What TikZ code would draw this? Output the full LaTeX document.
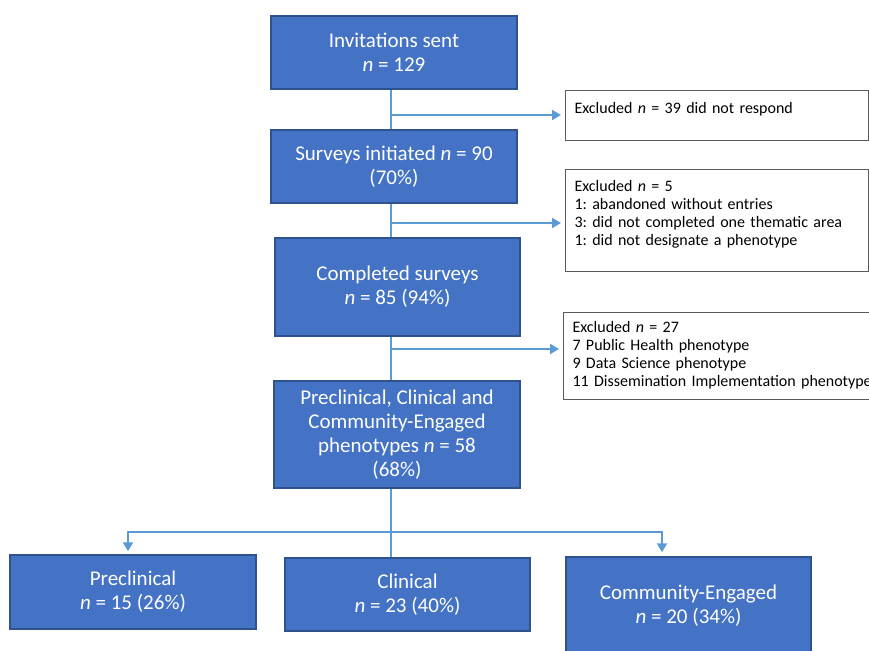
\documentclass[tikz,border=0pt]{standalone}
\usepackage{fontspec}
\setmainfont{Carlito}
\usetikzlibrary{arrows.meta}
\frenchspacing
\definecolor{boxblue}{HTML}{4472C4}
\definecolor{boxedge}{HTML}{2F528F}
\definecolor{linkblue}{HTML}{5B9BD5}
\definecolor{greyedge}{HTML}{5A5A5A}
\tikzset{
  bluebox/.style={draw=boxedge, line width=1.5pt, fill=boxblue, text=white,
    align=center, inner sep=0pt, font=\fontsize{21}{24}\selectfont},
  exbox/.style={draw=greyedge, line width=1.1pt, fill=white, anchor=north west,
    align=left, inner xsep=9pt, text height=12pt,
    font=\fontsize{16}{18}\selectfont\frenchspacing},
  link/.style={draw=linkblue, line width=2.4pt},
  arr/.style={link, -{Triangle[length=9pt,width=10pt]}, shorten >=4pt},
}
\begin{document}
\begin{tikzpicture}[x=1pt,y=-1pt]
\useasboundingbox (0,0) rectangle (869,650);
\clip (0,0) rectangle (869,650);

% main column
\node[bluebox, minimum width=246pt, minimum height=73pt] (inv) at (394,52.5)
  {Invitations sent\\\textit{n} = 129};
\node[bluebox, minimum width=246pt, minimum height=73pt] (surv) at (394,166.5)
  {Surveys initiated \textit{n} = 90\\(70\%)};
\node[bluebox, minimum width=245pt, minimum height=98pt] (comp) at (397.5,287)
  {Completed surveys\\\textit{n} = 85 (94\%)};
\node[bluebox, minimum width=246pt, minimum height=107pt] (pcc) at (397,434.5)
  {Preclinical, Clinical and\\Community-Engaged\\phenotypes \textit{n} = 58\\(68\%)};

% bottom row
\node[bluebox, minimum width=246pt, minimum height=74pt] (precl) at (133,592)
  {Preclinical\\\textit{n} = 15 (26\%)};
\node[bluebox, minimum width=245pt, minimum height=73pt] (clin) at (407.5,594.5)
  {Clinical\\\textit{n} = 23 (40\%)};
\node[bluebox, minimum width=245pt, minimum height=98pt] (comm) at (688.5,606)
  {Community-Engaged\\\textit{n} = 20 (34\%)};

% exclusion boxes
\node[exbox, text width=285pt, inner ysep=11pt, text depth=16pt] (exc1) at (565,90)
  {Excluded \textit{n} = 39 did not respond};
\node[exbox, text width=285pt, inner ysep=10pt, text depth=70pt] (exc2) at (565,169)
  {Excluded \textit{n} = 5\\1: abandoned without entries\\3: did not completed one thematic area\\1: did not designate a phenotype};
\node[exbox, text width=300pt, inner ysep=8pt, text depth=59pt] (exc3) at (563,312)
  {Excluded \textit{n} = 27\\7 Public Health phenotype\\9 Data Science phenotype\\11 Dissemination Implementation phenotype};

% spine
\coordinate (sx) at (391,0);
\coordinate (j1) at (391,115);
\coordinate (j2) at (391,223);
\coordinate (j3) at (391,349);
\coordinate (br) at (391,532);
\coordinate (bl) at (128,532);
\coordinate (brr) at (662,532);

\draw[link] (inv.south -| sx) -- (surv.north -| sx);
\draw[link] (surv.south -| sx) -- (comp.north -| sx);
\draw[link] (comp.south -| sx) -- (pcc.north -| sx);
\draw[link] (pcc.south -| sx) -- (clin.north -| sx);

\draw[arr] (j1) -- (j1 -| exc1.west);
\draw[arr] (j2) -- (j2 -| exc2.west);
\draw[arr] (j3) -- (j3 -| exc3.west);

\draw[arr, shorten >=3pt] (br) -- (bl) -- (bl |- precl.north);
\draw[arr, shorten >=4pt] (br) -- (brr) -- (brr |- comm.north);
\end{tikzpicture}
\end{document}
